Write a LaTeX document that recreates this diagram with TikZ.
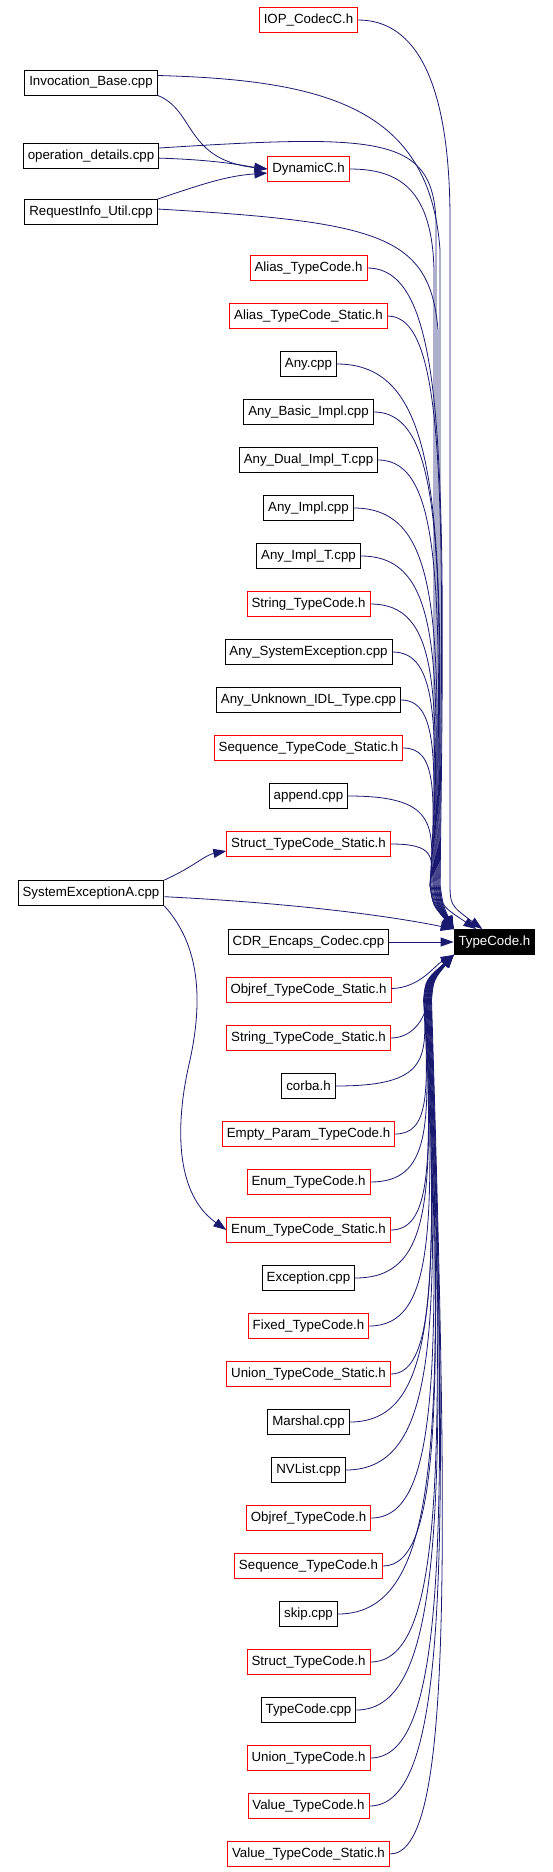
\documentclass[tikz,border=0pt]{standalone}
\usepackage{fontspec}
\setmainfont{Liberation Sans}
\usepackage{tikz}
\usetikzlibrary{arrows.meta}
\definecolor{edgeblue}{HTML}{191970}
\newcommand{\gfont}{\fontsize{13.3pt}{16pt}\selectfont}
\tikzset{
  filen/.style ={draw=black, fill=white, line width=0.8pt, minimum height=25pt, inner xsep=4.5pt, inner ysep=0pt, font=\gfont},
  trunc/.style ={filen, draw=red},                % header shown without its own graph
  focus/.style ={filen, fill=black, text=white},  % the file of this graph
  dep/.style   ={-{Triangle[length=13pt,width=9pt]}, line width=0.8pt, draw=edgeblue}, % includer -> included
}
\begin{document}
\begin{tikzpicture}[x=1pt, y=-1pt]
  \useasboundingbox (0,0) rectangle (552,1872);
  % left column
  \node[filen] (inv) at (91,82.5) {Invocation\_Base.cpp};
  \node[filen] (opd) at (91,156)  {operation\_details.cpp};
  \node[filen] (rqi) at (91,212)  {RequestInfo\_Util.cpp};
  \node[filen] (sxa) at (91,893)  {SystemExceptionA.cpp};
  % middle column, above
  \node[trunc] (iop)     at (308.5,20)  {IOP\_CodecC.h};
  \node[trunc] (dyn)     at (308.5,169) {DynamicC.h};
  \node[trunc] (alias)   at (308.5,268) {Alias\_TypeCode.h};
  \node[trunc] (aliass)  at (308.5,316) {Alias\_TypeCode\_Static.h};
  \node[filen] (any)     at (308.5,364) {Any.cpp};
  \node[filen] (anyb)    at (308.5,412) {Any\_Basic\_Impl.cpp};
  \node[filen] (anyd)    at (308.5,460) {Any\_Dual\_Impl\_T.cpp};
  \node[filen] (anyi)    at (308.5,508) {Any\_Impl.cpp};
  \node[filen] (anyit)   at (308.5,556) {Any\_Impl\_T.cpp};
  \node[trunc] (strtc)   at (308.5,604) {String\_TypeCode.h};
  \node[filen] (anyse)   at (308.5,652) {Any\_SystemException.cpp};
  \node[filen] (anyu)    at (308.5,700) {Any\_Unknown\_IDL\_Type.cpp};
  \node[trunc] (seqs)    at (308.5,748) {Sequence\_TypeCode\_Static.h};
  \node[filen] (app)     at (308.5,796) {append.cpp};
  \node[trunc] (structs) at (308.5,844) {Struct\_TypeCode\_Static.h};
  % middle column, level and below
  \node[filen] (cdr)      at (308.5,942)  {CDR\_Encaps\_Codec.cpp};
  \node[trunc] (objs)     at (308.5,990)  {Objref\_TypeCode\_Static.h};
  \node[trunc] (strs)     at (308.5,1038) {String\_TypeCode\_Static.h};
  \node[filen] (corba)    at (308.5,1086) {corba.h};
  \node[trunc] (empty)    at (308.5,1134) {Empty\_Param\_TypeCode.h};
  \node[trunc] (enumtc)   at (308.5,1182) {Enum\_TypeCode.h};
  \node[trunc] (enums)    at (308.5,1230) {Enum\_TypeCode\_Static.h};
  \node[filen] (exc)      at (308.5,1278) {Exception.cpp};
  \node[trunc] (fixed)    at (308.5,1326) {Fixed\_TypeCode.h};
  \node[trunc] (unions)   at (308.5,1374) {Union\_TypeCode\_Static.h};
  \node[filen] (marsh)    at (308.5,1422) {Marshal.cpp};
  \node[filen] (nvl)      at (308.5,1470) {NVList.cpp};
  \node[trunc] (objtc)    at (308.5,1518) {Objref\_TypeCode.h};
  \node[trunc] (seqtc)    at (308.5,1566) {Sequence\_TypeCode.h};
  \node[filen] (skip)     at (308.5,1614) {skip.cpp};
  \node[trunc] (structtc) at (308.5,1662) {Struct\_TypeCode.h};
  \node[filen] (tccpp)    at (308.5,1710) {TypeCode.cpp};
  \node[trunc] (uniontc)  at (308.5,1758) {Union\_TypeCode.h};
  \node[trunc] (valtc)    at (308.5,1806) {Value\_TypeCode.h};
  \node[trunc] (vals)     at (308.5,1854) {Value\_TypeCode\_Static.h};
  % target
  \node[focus] (tc) at (494.4,942) {TypeCode.h};
  % into DynamicC.h
  \draw[dep] (inv.south east) .. controls (195,110) and (185,160) .. (dyn.west);
  \draw[dep] (opd) .. controls (220,160) and (245,166) .. (dyn.west);
  \draw[dep] (rqi.north east) .. controls (200,185) and (225,176) .. ([yshift=-4pt]dyn.west);
  % top ones into TypeCode.h
  \draw[dep] (iop) .. controls (415,20) and (450,80) .. (450,220) -- (450,880) .. controls (450,905) .. ([xshift=-12pt]tc.north);
  \draw[dep] ([yshift=7pt]inv.east) .. controls (330,80) and (430,110) .. (440,250) -- (440,880) .. controls (440,905) .. ([xshift=-18pt]tc.north);
  \draw[dep] ([yshift=8pt]opd.east) .. controls (380,134) and (432,136) .. (436,220) -- (436,885) .. controls (439,905) .. (tc.north west);
  \draw[dep] (dyn) .. controls (400,169) and (432,190) .. (434,270) -- (434,885) .. controls (437,905) .. (tc.north west);
  \draw[dep] ([yshift=3pt]rqi.east) .. controls (380,222) and (430,235) .. (438,330) -- (438,885) .. controls (441,905) .. (tc.north west);
  % from above
  \draw[dep] (alias)   .. controls (446,268) and (446,453) .. (440,885) .. controls (443,905) .. (tc.north west);
  \draw[dep] (aliass)  .. controls (445,316) and (445,487) .. (439,885) .. controls (442,905) .. (tc.north west);
  \draw[dep] (any)     .. controls (444,364) and (444,520) .. (438,885) .. controls (441,905) .. (tc.north west);
  \draw[dep] (anyb)    .. controls (443,412) and (443,554) .. (437,885) .. controls (440,905) .. (tc.north west);
  \draw[dep] (anyd)    .. controls (442,460) and (442,588) .. (436,885) .. controls (439,905) .. (tc.north west);
  \draw[dep] (anyi)    .. controls (441,508) and (441,621) .. (435,885) .. controls (438,905) .. (tc.north west);
  \draw[dep] (anyit)   .. controls (440,556) and (440,655) .. (434,885) .. controls (437,905) .. (tc.north west);
  \draw[dep] (strtc)   .. controls (439,604) and (439,688) .. (433,885) .. controls (436,905) .. (tc.north west);
  \draw[dep] (anyse)   .. controls (438,652) and (438,722) .. (432,885) .. controls (435,905) .. (tc.north west);
  \draw[dep] (anyu)    .. controls (437,700) and (437,756) .. (431,885) .. controls (434,905) .. (tc.north west);
  \draw[dep] (seqs)    .. controls (436,748) and (436,789) .. (430,885) .. controls (433,905) .. (tc.north west);
  \draw[dep] (app)     .. controls (435,796) and (435,823) .. (430,885) .. controls (433,905) .. (tc.north west);
  \draw[dep] (structs) .. controls (434,844) and (434,856) .. (430,885) .. controls (433,905) .. (tc.north west);
  % SystemExceptionA.cpp
  \draw[dep] (sxa.north east) .. controls (195,866) and (205,855) .. ([yshift=-7pt]structs.west);
  \draw[dep] (sxa) .. controls (330,905) and (420,922) .. (tc.north west);
  \draw[dep] (sxa.south east) .. controls (200,945) and (203,1000) .. (190,1060) .. controls (178,1110) and (170,1190) .. (enums.west);
  % level
  \draw[dep] (cdr) -- (tc);
  % from below
  \draw[dep] (objs)     .. controls (420,988) and (435,965) .. (tc.south west);
  \draw[dep] (strs)     .. controls (412,1038) and (425,1020) .. (428,1000) .. controls (430,980) .. (tc.south west);
  \draw[dep] (corba)    .. controls (427.5,1086) and (427.5,1060) .. (423.5,1000) .. controls (425.5,980) .. (tc.south west);
  \draw[dep] (empty)    .. controls (429,1134) and (429,1094) .. (424,1000) .. controls (426,980) .. (tc.south west);
  \draw[dep] (enumtc)   .. controls (430.5,1182) and (430.5,1127) .. (424.5,1000) .. controls (426.5,980) .. (tc.south west);
  \draw[dep] (enums)    .. controls (432,1230) and (432,1161) .. (425,1000) .. controls (427,980) .. (tc.south west);
  \draw[dep] (exc)      .. controls (433,1278) and (433,1195) .. (425.5,1000) .. controls (427.5,980) .. (tc.south west);
  \draw[dep] (fixed)    .. controls (434.5,1326) and (434.5,1228) .. (426,1000) .. controls (428,980) .. (tc.south west);
  \draw[dep] (unions)   .. controls (436,1374) and (436,1262) .. (426.5,1000) .. controls (428.5,980) .. (tc.south west);
  \draw[dep] (marsh)    .. controls (437.5,1422) and (437.5,1295) .. (427,1000) .. controls (429,980) .. (tc.south west);
  \draw[dep] (nvl)      .. controls (439,1470) and (439,1329) .. (427.5,1000) .. controls (429.5,980) .. (tc.south west);
  \draw[dep] (objtc)    .. controls (440,1518) and (440,1363) .. (428,1000) .. controls (430,980) .. (tc.south west);
  \draw[dep] (seqtc)    .. controls (441.5,1566) and (441.5,1396) .. (428.5,1000) .. controls (430.5,980) .. (tc.south west);
  \draw[dep] (skip)     .. controls (443,1614) and (443,1430) .. (429,1000) .. controls (431,980) .. (tc.south west);
  \draw[dep] (structtc) .. controls (444.5,1662) and (444.5,1463) .. (429.5,1000) .. controls (431.5,980) .. (tc.south west);
  \draw[dep] (tccpp)    .. controls (446,1710) and (446,1497) .. (430,1000) .. controls (432,980) .. (tc.south west);
  \draw[dep] (uniontc)  .. controls (447.5,1758) and (447.5,1531) .. (430.5,1000) .. controls (432.5,980) .. (tc.south west);
  \draw[dep] (valtc)    .. controls (448.5,1806) and (448.5,1564) .. (431,1000) .. controls (433,980) .. (tc.south west);
  \draw[dep] (vals)     .. controls (450,1854) and (450,1598) .. (431.5,1000) .. controls (433.5,980) .. (tc.south west);
\end{tikzpicture}
\end{document}
